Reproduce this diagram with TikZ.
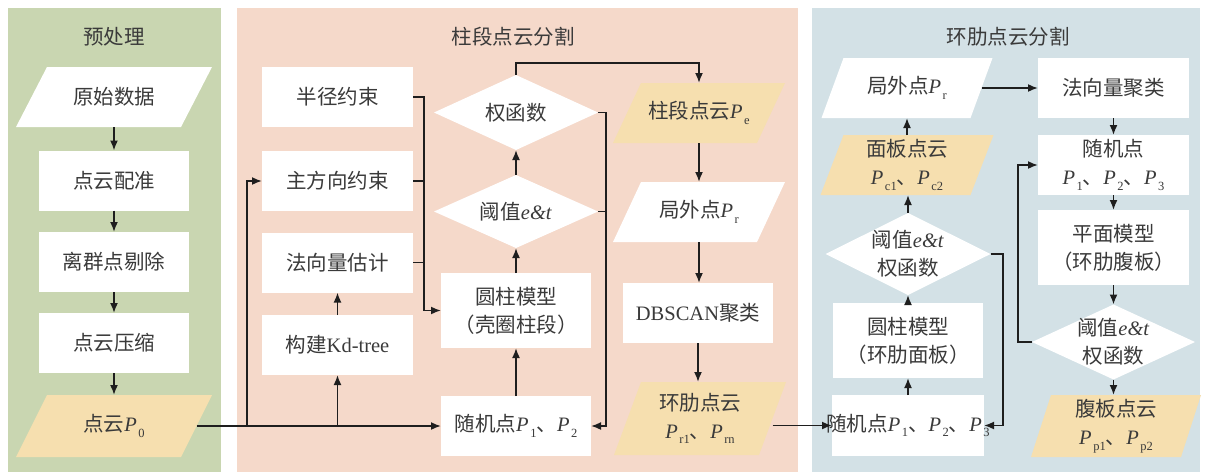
\documentclass[tikz,border=0pt]{standalone}
\usepackage{fontspec}
\setmainfont{Liberation Serif}
\newfontfamily\cjk{Noto Sans CJK SC}
\usetikzlibrary{arrows.meta,calc}
\definecolor{gcol}{HTML}{C9D6B1}
\definecolor{pcol}{HTML}{F5D9CA}
\definecolor{bcol}{HTML}{D3E1E6}
\definecolor{ycol}{HTML}{F6DFAF}
\definecolor{txtc}{HTML}{3A3A3A}
\definecolor{linec}{HTML}{1E1E1E}
\pgfdeclarelayer{bg}
\pgfsetlayers{bg,main}
\newcommand\C[1]{{\cjk #1}}
\newcommand\fs{\fontsize{20.5}{28}\selectfont}
\newcommand\Ps[1]{\textit{P}\kern1.5pt\raisebox{-5.5pt}{\fontsize{12.5}{12.5}\selectfont #1}}
\newcommand\et{\textit{e\&t}}
\tikzset{
  base/.style={inner sep=0pt, outer sep=0pt, align=center, text=txtc, font=\fs},
  rbox/.style={base, fill=white, minimum width=150pt, minimum height=60pt},
  arr/.style={-{Latex[length=10pt,width=8pt]}, line width=1.7pt, draw=linec},
  ln/.style={line width=1.7pt, draw=linec},
}
% name x y w h text
\newcommand\dia[6]{%
  \node[base, minimum width=#4pt, minimum height=#5pt] (#1) at (#2,#3) {#6};
  \begin{pgfonlayer}{bg}\fill[white] (#1.north)--(#1.east)--(#1.south)--(#1.west)--cycle;\end{pgfonlayer}}
% name x y w h skew fill text
\newcommand\para[8]{%
  \node[base, minimum width=#4pt, minimum height=#5pt] (#1) at (#2,#3) {#8};
  \begin{pgfonlayer}{bg}\fill[#7] ([xshift=-#6pt]#1.south west)--([xshift=-#6pt]#1.south east)--([xshift=#6pt]#1.north east)--([xshift=#6pt]#1.north west)--cycle;\end{pgfonlayer}}
\begin{document}
\begin{tikzpicture}[x=1pt,y=-1pt]
\useasboundingbox (0,0) rectangle (1209,472);
\begin{pgfonlayer}{bg}
  \fill[white] (0,0) rectangle (1209,472);
  \fill[gcol] (8,8) rectangle (221,472);
  \fill[pcol] (237,8) rectangle (798,472);
  \fill[bcol] (812,8) rectangle (1200,472);
\end{pgfonlayer}

% titles
\node[base] (t1) at (114,37) {\C{预处理}};
\node[base] (t2) at (513,37) {\C{柱段点云分割}};
\node[base] (t3) at (1008,37) {\C{环肋点云分割}};

% left panel
\para{ori}{114}{97}{165}{60}{15.5}{white}{\C{原始数据}}
\node[rbox] (reg) at (114,180.5) {\C{点云配准}};
\node[rbox] (rej) at (114,262) {\C{离群点剔除}};
\node[rbox] (cmp) at (114,343) {\C{点云压缩}};
\para{p0}{114}{426}{165}{62}{15.5}{ycol}{\C{点云}\Ps{0}}

% middle panel
\node[rbox, minimum width=151pt] (rad) at (337.5,97) {\C{半径约束}};
\node[rbox, minimum width=151pt] (dir) at (337.5,181) {\C{主方向约束}};
\node[rbox, minimum width=151pt] (nor) at (337.5,262.5) {\C{法向量估计}};
\node[rbox, minimum width=151pt] (kd) at (337.5,345) {\C{构建}Kd-tree};
\node[rbox, minimum height=75pt] (cyl1) at (516,310.5) {\C{圆柱模型}\\\C{（壳圈柱段）}};
\node[rbox] (rnd1) at (516,426) {\C{随机点}\Ps{1}\C{、}\Ps{2}};
\dia{thr1}{516}{211.5}{164}{73}{\C{阈值}\et}
\dia{wf1}{516}{112.5}{164}{75}{\C{权函数}}
\para{pe}{699}{113}{144}{60}{14}{ycol}{\C{柱段点云}\Ps{e}}
\para{pr1}{699}{212}{144}{60}{14}{white}{\C{局外点}\Ps{r}}
\node[rbox] (db) at (698,313) {DBSCAN\C{聚类}};
\para{ring}{700}{418.5}{145}{73}{13.5}{ycol}{\C{环肋点云}\\\Ps{r1}\C{、}\Ps{rn}}

% right panel
\para{pr2}{907}{88}{149}{60}{11}{white}{\C{局外点}\Ps{r}}
\node[rbox, minimum width=151pt] (nc) at (1113.5,88) {\C{法向量聚类}};
\node[rbox, minimum width=151pt] (rnd3) at (1113.5,165) {\C{随机点}\\\Ps{1}\C{、}\Ps{2}\C{、}\Ps{3}};
\node[rbox, minimum width=151pt, minimum height=75pt] (plane) at (1113.5,247.5) {\C{平面模型}\\\C{（环肋腹板）}};
\dia{thr3}{1113.5}{342}{163}{75}{\C{阈值}\et\\\C{权函数}}
\para{web}{1116}{426}{150}{62}{10}{ycol}{\C{腹板点云}\\\Ps{p1}\C{、}\Ps{p2}}
\para{pc}{907}{165}{150}{60}{11.5}{ycol}{\C{面板点云}\\\Ps{c1}\C{、}\Ps{c2}}
\dia{thr2}{908}{254}{165}{82}{\C{阈值}\et\\\C{权函数}}
\node[rbox, minimum height=75pt] (cyl2) at (908,340.5) {\C{圆柱模型}\\\C{（环肋面板）}};
\node[rbox, minimum width=152pt, minimum height=61pt] (rnd2) at (908,425.5) {\makebox[152pt]{\C{随机点}\Ps{1}\C{、}\Ps{2}\C{、}\Ps{3}}};

% helper coordinates
\coordinate (b1) at (247,0);
\coordinate (br) at (424,0);
\coordinate (top) at (0,63);
\coordinate (rr) at (606,0);
\coordinate (lr) at (1018,0);
\coordinate (rr2) at (1003,0);

% left connectors
\draw[arr] (ori.south) -- (reg.north);
\draw[arr] (reg.south) -- (rej.north);
\draw[arr] (rej.south) -- (cmp.north);
\draw[arr] (cmp.south) -- (p0.north);
\draw[arr] (p0.east) -- (rnd1.west);
\draw[arr] (b1 |- p0.east) |- (dir.west);
\draw[arr] (kd.south |- rnd1.west) -- (kd.south);
\draw[arr] (kd.north) -- (nor.south);

% middle connectors
\draw[ln] (rad.east) -| (br |- cyl1.west);
\draw[ln] (dir.east) -- (dir.east -| br);
\draw[ln] (nor.east) -- (nor.east -| br);
\draw[arr] (br |- cyl1.west) -- (cyl1.west);
\draw[arr] (rnd1.north) -- (cyl1.south);
\draw[arr] (cyl1.north) -- (thr1.south);
\draw[arr] (thr1.north) -- (wf1.south);
\draw[arr] (wf1.north) -- (wf1.north |- top) -| (pe.north);
\draw[arr] (wf1.east) -| (rr |- rnd1.east) -- (rnd1.east);
\draw[ln] (thr1.east) -- (thr1.east -| rr);
\draw[arr] (pe.south) -- (pr1.north);
\draw[arr] (pr1.south) -- (pr1.south |- db.north);
\draw[arr] (db.south) -- (db.south |- ring.north);
\draw[arr] (ring.east |- rnd2.west) -- (rnd2.west);

% right connectors
\draw[arr] (rnd2.north) -- (cyl2.south);
\draw[arr] (cyl2.north) -- (thr2.south);
\draw[arr] (thr2.north) -- (thr2.north |- pc.south);
\draw[arr] (pc.south |- pc.north) -- (pc.south |- pr2.south);
\draw[arr] (pr2.east) -- (nc.west);
\draw[arr] (nc.south) -- (rnd3.north);
\draw[arr] (rnd3.south) -- (plane.north);
\draw[arr] (plane.south) -- (thr3.north);
\draw[arr] (thr3.south) -- (thr3.south |- web.north);
\draw[arr] (thr3.west) -| (lr |- rnd3.west) -- (rnd3.west);
\draw[arr] (thr2.east) -| (rr2 |- rnd2.east) -- (rnd2.east);
\end{tikzpicture}
\end{document}
